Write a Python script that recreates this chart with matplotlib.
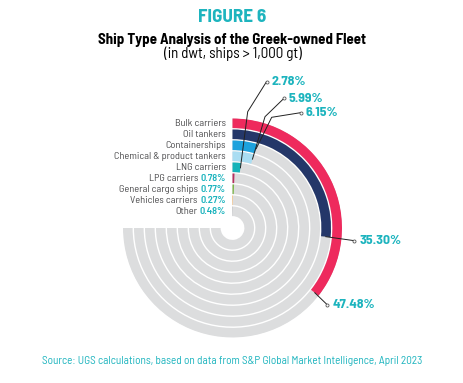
import matplotlib
matplotlib.use("Agg")
import matplotlib.pyplot as plt
import numpy as np
from matplotlib.lines import Line2D

# ship types, outer ring first
ships = ["Bulk carriers", "Oil tankers", "Containerships", "Chemical & product tankers",
         "LNG carriers", "LPG carriers", "General cargo ships", "Vehicles carriers", "Other"]
shares = [47.48, 35.30, 6.15, 5.99, 2.78, 0.78, 0.77, 0.27, 0.48]
colors = ["#EE2A5D", "#243769", "#1DA2DD", "#A9DDF2", "#14B3B9",
          "#B5305F", "#7BB548", "#F7941D", "#A7A9AC"]
inline_pct = [False, False, False, False, False, True, True, True, True]

TEAL = "#1DB4BE"
GREY = "#DCDDDE"
W, H = 464, 383

COND = ['Barlow Semi Condensed', 'DejaVu Sans']
plt.rcParams['font.family'] = COND

fig = plt.figure(figsize=(W / 100, H / 100), dpi=100)

# polar axes: centre at (232.5, 228) px, outer radius 110 px
cx, cy, R = 232.5, 228, 110
ax = fig.add_axes([(cx - R) / W, (H - cy - R) / H, 2 * R / W, 2 * R / H], polar=True)
ax.set_theta_zero_location('N')
ax.set_theta_direction(-1)
ax.set_ylim(0, R)
ax.axis('off')

full = 1.5 * np.pi   # 100% = 270 degrees
pitch, bw = 11, 9.6
r_out = [R - 0.5 - i * pitch for i in range(len(ships))]

for i in range(len(ships)):
    ax.bar(0, bw, width=full, bottom=r_out[i] - bw, align='edge', color=GREY, linewidth=0)
    ax.bar(0, bw, width=shares[i] / 100 * full, bottom=r_out[i] - bw, align='edge',
           color=colors[i], linewidth=0)

fig.canvas.draw()
renderer = fig.canvas.get_renderer()


def fit(t, target):
    # rescale a text so its width is close to target pixels
    w = t.get_window_extent(renderer).width
    t.set_fontsize(t.get_fontsize() * target / w)
    return t.get_fontsize()


# find the sizes from the reference widths
probe = fig.text(0, 0, "Chemical & product tankers", fontsize=8)
lab_fs = fit(probe, 111)
probe.remove()
probe = fig.text(0, 0, "35.30%", fontsize=10, fontweight='bold')
pct_fs = fit(probe, 42)
probe.remove()

# ring labels on the left
lx = 226
for i in range(len(ships)):
    y = 1 - (cy - (r_out[i] - bw / 2)) / H
    x = lx / W
    if inline_pct[i]:
        t = fig.text(x, y, "%.2f%%" % shares[i], ha='right', va='center', fontsize=lab_fs,
                     color=TEAL, fontweight='semibold')
        wpx = t.get_window_extent(renderer).width
        fig.text((lx - wpx - 2.5) / W, y, ships[i], ha='right', va='center', fontsize=lab_fs,
                 color="#4D4D4F")
    else:
        fig.text(x, y, ships[i], ha='right', va='center', fontsize=lab_fs, color="#4D4D4F")

# callouts: ring index -> elbow / end points in px
callouts = {
    4: [(247.7, 111.7), (266.5, 81.7)],
    3: [(265, 116.7), (284, 98.3)],
    2: [(271.7, 117.3), (300.5, 112.7)],
    1: [(354.5, 240.7)],
    0: [(327.5, 305)],
}
for i, pts in callouts.items():
    th = shares[i] / 100 * full
    rr = r_out[i] - bw / 2
    sx, sy = ax.transData.transform((th, rr))
    xs = [sx / W] + [p[0] / W for p in pts]
    ys = [sy / H] + [1 - p[1] / H for p in pts]
    fig.add_artist(Line2D(xs, ys, color="#222222", lw=0.7))
    ex, ey = pts[-1]
    fig.add_artist(Line2D([ex / W], [1 - ey / H], marker='o', ms=2.2, mfc='white',
                          mec="#555555", mew=0.6))
    fig.text((ex + 5) / W, 1 - ey / H, "%.2f%%" % shares[i], ha='left', va='center',
             fontsize=pct_fs, color=TEAL, fontweight='bold')

# titles
t1 = fig.text(cx / W, 1 - 18 / H, "FIGURE 6", ha='center', va='center', fontsize=14,
              color=TEAL, fontweight='bold')
fit(t1, 68)
t2 = fig.text(cx / W, 1 - 40 / H, "Ship Type Analysis of the Greek-owned Fleet", ha='center',
              va='center', fontsize=10, color="black", fontweight='bold')
fit(t2, 269)
t3 = fig.text(cx / W, 1 - 54 / H, "(in dwt, ships > 1,000 gt)", ha='center', va='center',
              fontsize=9, color="black")
fit(t3, 138)
t4 = fig.text(cx / W, 1 - 361 / H,
              "Source: UGS calculations, based on data from S&P Global Market Intelligence, April 2023",
              ha='center', va='center', fontsize=7, color=TEAL)
fit(t4, 380)

fig.savefig("out.png", dpi=100)
